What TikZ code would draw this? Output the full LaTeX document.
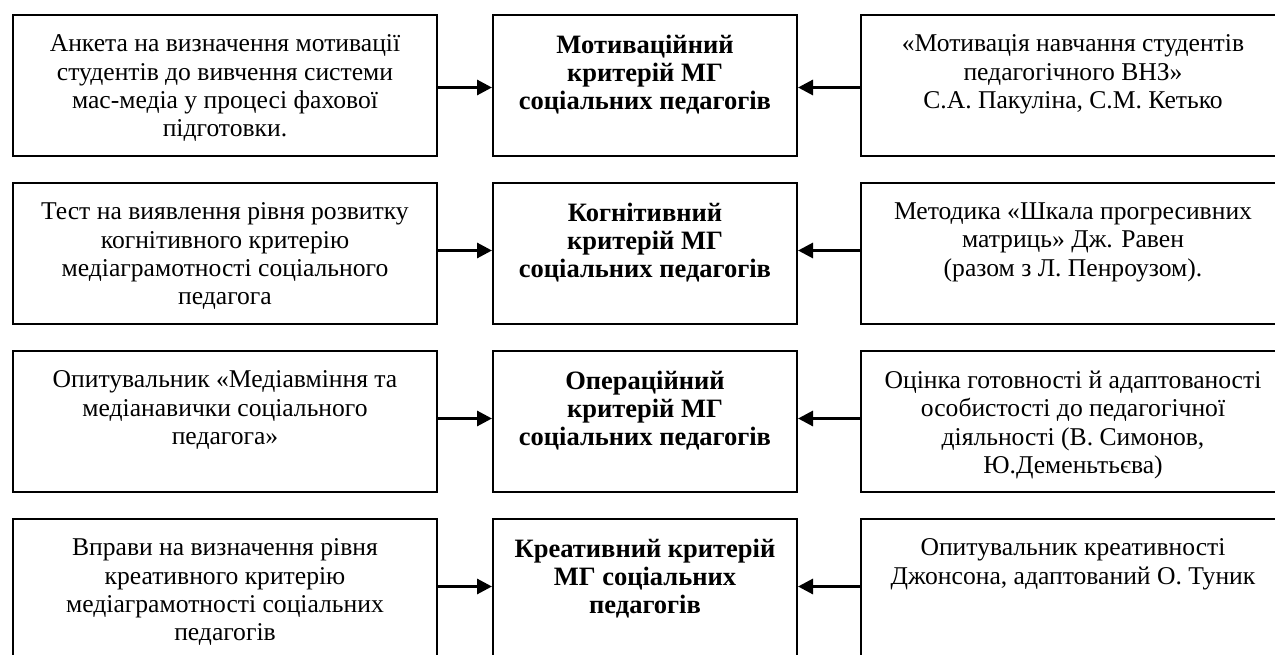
\documentclass[tikz,border=0pt]{standalone}
\usepackage{fontspec}
\setmainfont{Liberation Serif}
\usetikzlibrary{arrows.meta}
\tikzset{
  boxL/.style={draw, line width=2pt, minimum width=424pt, minimum height=141pt, anchor=north west, inner sep=0pt},
  boxM/.style={draw, line width=2pt, minimum width=304pt, minimum height=141pt, anchor=north west, inner sep=0pt},
  txt/.style={anchor=north, align=center, inner sep=0pt, font=\fontsize{25.6}{28.4}\selectfont, execute at begin node=\strut},
  btxt/.style={txt, font=\fontsize{26.5}{28.4}\selectfont\bfseries},
  arr/.style={line width=3pt, -{Triangle[length=15pt,width=15pt]}}
}
\begin{document}
\begin{tikzpicture}[x=1pt,y=-1pt]
\useasboundingbox (0,0) rectangle (1275,655);
\clip (0,0) rectangle (1275,655);
\fill[white] (0,0) rectangle (1275,655);
% row tops: 14, 182, 350, 518
\foreach \r/\t in {1/14,2/182,3/350,4/518}{
  \node[boxL] (L\r) at (12,\t) {};
  \node[boxM] (M\r) at (492,\t) {};
  \node[boxL] (R\r) at (860,\t) {};
}
% texts
\node[txt] (tL1) at ([yshift=-20.5pt]L1.north) {Анкета на визначення мотивації\\студентів до вивчення системи\\мас-медіа у процесі фахової\\підготовки.};
\node[btxt] (tM1) at ([yshift=-20.5pt]M1.north) {Мотиваційний\\критерій МГ\\соціальних педагогів};
\node[txt] (tR1) at ([yshift=-20.5pt]R1.north) {«Мотивація навчання студентів\\педагогічного ВНЗ»\\С.А. Пакуліна, С.М. Кетько};

\node[txt] (tL2) at ([yshift=-20.5pt]L2.north) {Тест на виявлення рівня розвитку\\когнітивного критерію\\медіаграмотності соціального\\педагога};
\node[btxt] (tM2) at ([yshift=-20.5pt]M2.north) {Когнітивний\\критерій МГ\\соціальних педагогів};
\node[txt] (tR2) at ([yshift=-20.5pt]R2.north) {Методика «Шкала прогресивних\\матриць» Дж. Равен\\(разом з Л. Пенроузом).};

\node[txt] (tL3) at ([yshift=-20.5pt]L3.north) {Опитувальник «Медіавміння та\\медіанавички соціального\\педагога»};
\node[btxt] (tM3) at ([yshift=-20.5pt]M3.north) {Операційний\\критерій МГ\\соціальних педагогів};
\node[txt] (tR3) at ([yshift=-20.5pt]R3.north) {Оцінка готовності й адаптованості\\особистості до педагогічної\\діяльності (В. Симонов,\\Ю.Деменьтьєва)};

\node[txt] (tL4) at ([yshift=-20.5pt]L4.north) {Вправи на визначення рівня\\креативного критерію\\медіаграмотності соціальних\\педагогів};
\node[btxt] (tM4) at ([yshift=-20.5pt]M4.north) {Креативний критерій\\МГ соціальних\\педагогів};
\node[txt] (tR4) at ([yshift=-20.5pt]R4.north) {Опитувальник креативності\\Джонсона, адаптований О. Туник};

% arrows
\draw[arr] ([yshift=-2pt]L1.east) -- ([yshift=-2pt]M1.west);
\draw[arr] ([yshift=-2pt]R1.west) -- ([yshift=-2pt]M1.east);
\foreach \r in {2,3,4}{
  \draw[arr] ([yshift=3pt]L\r.east) -- ([yshift=3pt]M\r.west);
  \draw[arr] ([yshift=3pt]R\r.west) -- ([yshift=3pt]M\r.east);
}
\end{tikzpicture}
\end{document}
